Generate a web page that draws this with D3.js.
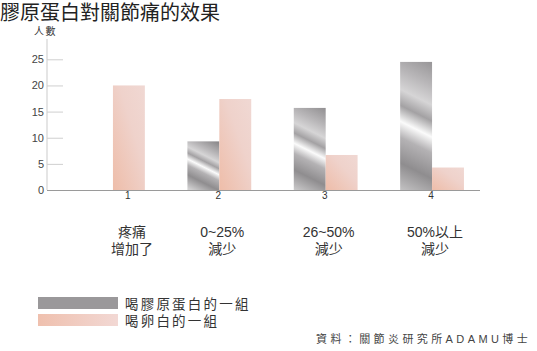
<!DOCTYPE html>
<html>
<head>
<meta charset="utf-8">
<script src="https://cdn.jsdelivr.net/npm/d3@7"></script>
<style>
  body { margin: 0; background: #fff; }
  svg { display: block; font-family: "Liberation Sans", "Noto Sans CJK TC", sans-serif; }
</style>
</head>
<body>
<div id="chart"></div>
<script>
// 資料
const groups = ["1", "2", "3", "4"];
const groupLabels = [["疼痛", "增加了"], ["0~25%", "減少"], ["26~50%", "減少"], ["50%以上", "減少"]];
const collagen = [null, 9.3, 15.7, 24.5];
const eggWhite = [20, 17.4, 6.7, 4.3];
const yTicks = [0, 5, 10, 15, 20, 25];
const seriesNames = ["喝膠原蛋白的一組", "喝卵白的一組"];

const width = 537, height = 351;
const mixed = '"Liberation Sans", "Noto Sans CJK TC", sans-serif';

const svg = d3.select("#chart")
    .append("svg")
    .attr("width", width)
    .attr("height", height);

const defs = svg.append("defs");

// 粉紅漸層
const pink = defs.append("linearGradient")
    .attr("id", "pink")
    .attr("x1", 0).attr("y1", 1).attr("x2", 1).attr("y2", 0);
pink.append("stop").attr("offset", 0).attr("stop-color", "#eebda9");
pink.append("stop").attr("offset", 0.6).attr("stop-color", "#efd2cb");
pink.append("stop").attr("offset", 1).attr("stop-color", "#f0d8d3");

const pinkH = defs.append("linearGradient")
    .attr("id", "pinkH")
    .attr("x1", 0).attr("y1", 0).attr("x2", 1).attr("y2", 0);
pinkH.append("stop").attr("offset", 0).attr("stop-color", "#efc0ae");
pinkH.append("stop").attr("offset", 1).attr("stop-color", "#f2d8d4");

// 金屬灰漸層
const metalStops = [
    [0, "#8c8a8c"], [0.2, "#b9b7b9"], [0.32, "#d6d5d6"], [0.42, "#a3a1a3"],
    [0.52, "#fbfbfb"], [0.62, "#b4b2b4"], [0.78, "#8f8d8f"], [1, "#d2d1d2"]
];

const x0 = d3.scaleBand()
    .domain(groups)
    .range([47, 498])
    .paddingInner(0.4)
    .paddingOuter(0.32);

const x1 = d3.scaleBand()
    .domain([0, 1])
    .range([0, x0.bandwidth()]);

const y = d3.scaleLinear()
    .domain([0, 25])
    .range([190, 59.3]);

// 軸
svg.append("line")
    .attr("x1", 47).attr("x2", 47)
    .attr("y1", y(0)).attr("y2", y(28.9))
    .attr("stroke", "#dcdcdc")
    .attr("stroke-width", 1.5);

const yAxis = svg.append("g")
    .attr("transform", "translate(47,0)")
    .call(d3.axisLeft(y).tickValues(yTicks).tickSize(-16).tickPadding(3));
yAxis.select(".domain").remove();
yAxis.selectAll(".tick line").attr("stroke", "#cfcfcf");
yAxis.selectAll(".tick text")
    .attr("fill", "#444")
    .style("font-size", "11px")
    .style("font-family", '"Liberation Sans", sans-serif');

svg.append("text")
    .attr("x", 34).attr("y", 35)
    .style("font-family", mixed)
    .style("font-size", "10px")
    .style("letter-spacing", "1.5px")
    .attr("fill", "#333")
    .text("人數");

// 資料表
const bars = [];
groups.forEach((g, i) => {
    [collagen[i], eggWhite[i]].forEach((v, s) => {
        if (v != null) bars.push({ group: g, series: s, value: v, idx: i });
    });
});

// 每根灰柱一個漸層
bars.filter(d => d.series === 0).forEach(d => {
    const bx = x0(d.group) + x1(0), bw = x1.bandwidth();
    const top = y(d.value), h = y(0) - top;
    const cx = bx + bw / 2;
    const grad = defs.append("linearGradient")
        .attr("id", "metal" + d.idx)
        .attr("gradientUnits", "userSpaceOnUse")
        .attr("x1", cx + h / 4).attr("y1", top)
        .attr("x2", cx - h / 4).attr("y2", y(0));
    metalStops.forEach(s => grad.append("stop").attr("offset", s[0]).attr("stop-color", s[1]));
});

svg.selectAll(".bar")
    .data(bars)
    .enter()
    .append("rect")
    .attr("class", "bar")
    .attr("x", d => x0(d.group) + x1(d.series))
    .attr("y", d => y(d.value))
    .attr("width", x1.bandwidth())
    .attr("height", d => y(0) - y(d.value))
    .attr("fill", d => d.series === 0 ? `url(#metal${d.idx})` : "url(#pink)");

// 底線
svg.append("line")
    .attr("x1", 47).attr("x2", 480)
    .attr("y1", y(0) + 0.5).attr("y2", y(0) + 0.5)
    .attr("stroke", "#9a9a9a");

// 組別標籤
const labelX = (g, i) => {
    const shown = [collagen[i], eggWhite[i]]
        .map((v, s) => v != null ? x0(g) + x1(s) + x1.bandwidth() / 2 : null)
        .filter(v => v != null);
    return d3.mean(shown);
};

svg.selectAll(".gnum")
    .data(groups)
    .enter()
    .append("text")
    .attr("class", "gnum")
    .attr("x", (g, i) => labelX(g, i) - 1)
    .attr("y", 199)
    .attr("text-anchor", "middle")
    .attr("fill", "#333")
    .style("font-size", "10px")
    .text(g => g);

// 每行各自一個 text
const lines = [];
groupLabels.forEach((ls, i) => ls.forEach((t, j) => lines.push({ t, i, j })));

svg.selectAll(".glab")
    .data(lines)
    .enter()
    .append("text")
    .attr("class", "glab")
    .attr("x", d => labelX(groups[d.i], d.i) + 3)
    .attr("y", d => 237 + d.j * 17)
    .attr("text-anchor", "middle")
    .attr("fill", "#333")
    .style("font-family", mixed)
    .style("font-size", "14px")
    .text(d => d.t);

// 標題
svg.append("text")
    .attr("x", 0).attr("y", 20)
    .style("font-family", mixed)
    .style("font-size", "20px")
    .attr("fill", "#222")
    .text("膠原蛋白對關節痛的效果");

// 圖例
const legMetal = defs.append("linearGradient")
    .attr("id", "legMetal")
    .attr("gradientUnits", "userSpaceOnUse")
    .attr("x1", 38).attr("y1", 297)
    .attr("x2", 118).attr("y2", 309);
[[0, "#9a989a"], [0.2, "#d8d7d8"], [0.38, "#a4a2a4"], [0.5, "#a9a7a9"],
 [0.62, "#fbfbfb"], [0.8, "#b2b0b2"], [1, "#9c9a9c"]]
    .forEach(s => legMetal.append("stop").attr("offset", s[0]).attr("stop-color", s[1]));

const legend = svg.selectAll(".legend")
    .data(seriesNames)
    .enter()
    .append("g")
    .attr("class", "legend")
    .attr("transform", (d, i) => `translate(38,${297 + i * 17})`);

legend.append("rect")
    .attr("width", 80)
    .attr("height", 12)
    .attr("fill", (d, i) => i === 0 ? "url(#legMetal)" : "url(#pinkH)");

legend.append("text")
    .attr("x", 87).attr("y", 12)
    .style("font-family", mixed)
    .style("font-size", "13.5px")
    .style("letter-spacing", "2.2px")
    .attr("fill", "#333")
    .text(d => d);

// 資料來源
svg.append("text")
    .attr("x", 316).attr("y", 343)
    .style("font-family", mixed)
    .style("font-size", "11px")
    .style("letter-spacing", "3.4px")
    .attr("fill", "#444")
    .text("資料：關節炎研究所ADAMU博士");
</script>
</body>
</html>
